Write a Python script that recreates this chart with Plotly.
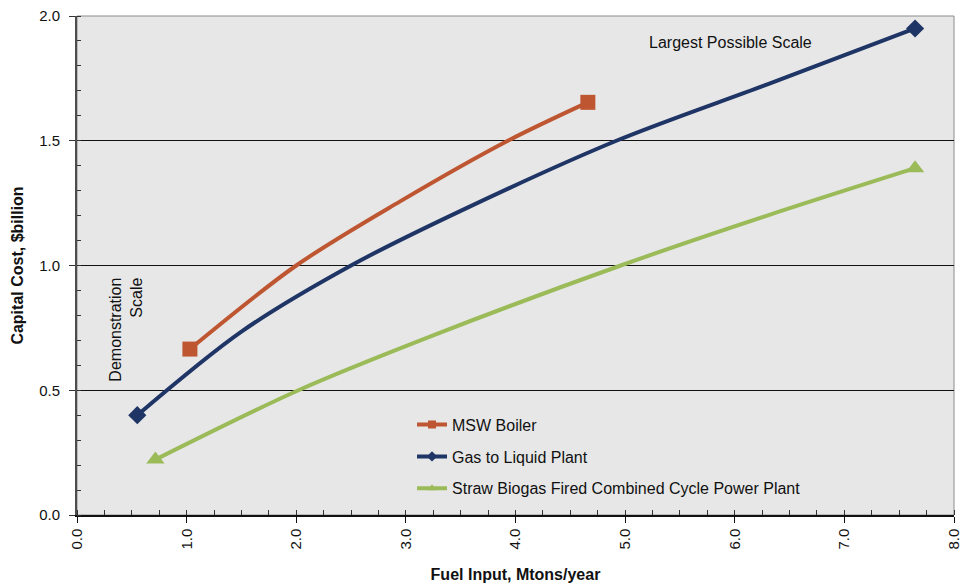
import plotly.graph_objects as go

# Fuel input (Mt/yr) vs capital cost ($ billion)
msw_x = [1.03, 2.00, 2.94, 3.93, 4.66]
msw_y = [0.665, 1.00, 1.255, 1.50, 1.654]

gtl_x = [0.55, 1.50, 2.50, 3.50, 4.92, 6.31, 7.645]
gtl_y = [0.40, 0.735, 1.00, 1.219, 1.50, 1.728, 1.95]

straw_x = [0.715, 2.02, 3.22, 4.96, 6.31, 7.645]
straw_y = [0.222, 0.50, 0.715, 1.00, 1.202, 1.39]

series = [
    ("MSW Boiler", msw_x, msw_y, "#BE5631", "square", 15),
    ("Gas to Liquid Plant", gtl_x, gtl_y, "#1F3566", "diamond", 14),
    ("Straw Biogas Fired Combined Cycle Power Plant", straw_x, straw_y, "#9BBB59", "triangle-up", 16),
]

FONT = "Liberation Sans, Arial, sans-serif"

fig = go.Figure()
for name, xs, ys, color, symbol, msize in series:
    # smoothed cost curve
    fig.add_trace(go.Scatter(
        x=xs, y=ys, mode="lines", line=dict(color=color, width=4, shape="spline", smoothing=0.9),
        legendgroup=name, showlegend=False, hoverinfo="skip"))
    # end-point markers (smallest and largest plant)
    fig.add_trace(go.Scatter(
        x=[xs[0], xs[-1]], y=[ys[0], ys[-1]], mode="markers",
        marker=dict(color=color, symbol=symbol, size=msize, line=dict(width=0)),
        legendgroup=name, showlegend=False))
    # legend entry
    fig.add_trace(go.Scatter(
        x=[None], y=[None], mode="lines+markers", name=name,
        line=dict(color=color, width=4),
        marker=dict(color=color, symbol=symbol, size=8),
        legendgroup=name, showlegend=True))

fig.add_annotation(x=5.2, y=1.894, xref="x", yref="y", text="Largest Possible Scale",
                   showarrow=False, xanchor="left", yanchor="middle",
                   font=dict(family=FONT, size=16, color="#111111"))
fig.add_annotation(x=0.445, y=0.742, xref="x", yref="y", text="Demonstration<br>Scale",
                   showarrow=False, textangle=-90, align="right",
                   font=dict(family=FONT, size=16, color="#111111"))

# plot frame (top / right edges)
fig.add_shape(type="rect", xref="x domain", yref="y domain", x0=0, x1=1, y0=0, y1=1,
              line=dict(color="#8c8c8c", width=1), layer="below")

fig.update_layout(
    width=963, height=585,
    margin=dict(l=77, r=9, t=16, b=70, autoexpand=False),
    paper_bgcolor="white", plot_bgcolor="#E7E7E7",
    font=dict(family=FONT, size=15, color="#111111"),
    legend=dict(x=0.382, y=0.215, xanchor="left", yanchor="top",
                bgcolor="rgba(0,0,0,0)", font=dict(family=FONT, size=16),
                tracegroupgap=8, itemwidth=30, traceorder="grouped"),
    xaxis=dict(range=[0, 8], dtick=1, tickformat=".1f", tickangle=-90,
               showgrid=False, zeroline=False,
               showline=True, linecolor="#111111", linewidth=1.5,
               ticks="outside", ticklen=6, tickcolor="#111111",
               minor=dict(dtick=0.25, ticks="inside", ticklen=5, tickcolor="#333333", showgrid=False),
               title=dict(text="<b>Fuel Input, Mtons/year</b>", font=dict(family=FONT, size=16), standoff=20),
               fixedrange=True),
    yaxis=dict(range=[0, 2], dtick=0.5, tickformat=".1f",
               showgrid=True, gridcolor="#111111", gridwidth=1, zeroline=False,
               showline=True, linecolor="#4d4d4d", linewidth=2,
               ticks="outside", ticklen=6, tickcolor="#333333", ticklabelstandoff=6,
               minor=dict(dtick=0.1, ticks="inside", ticklen=4, tickcolor="#333333", showgrid=False),
               title=dict(text="<b>Capital Cost, $billion</b>", font=dict(family=FONT, size=16), standoff=12),
               fixedrange=True),
)

fig.write_html("out.html")
